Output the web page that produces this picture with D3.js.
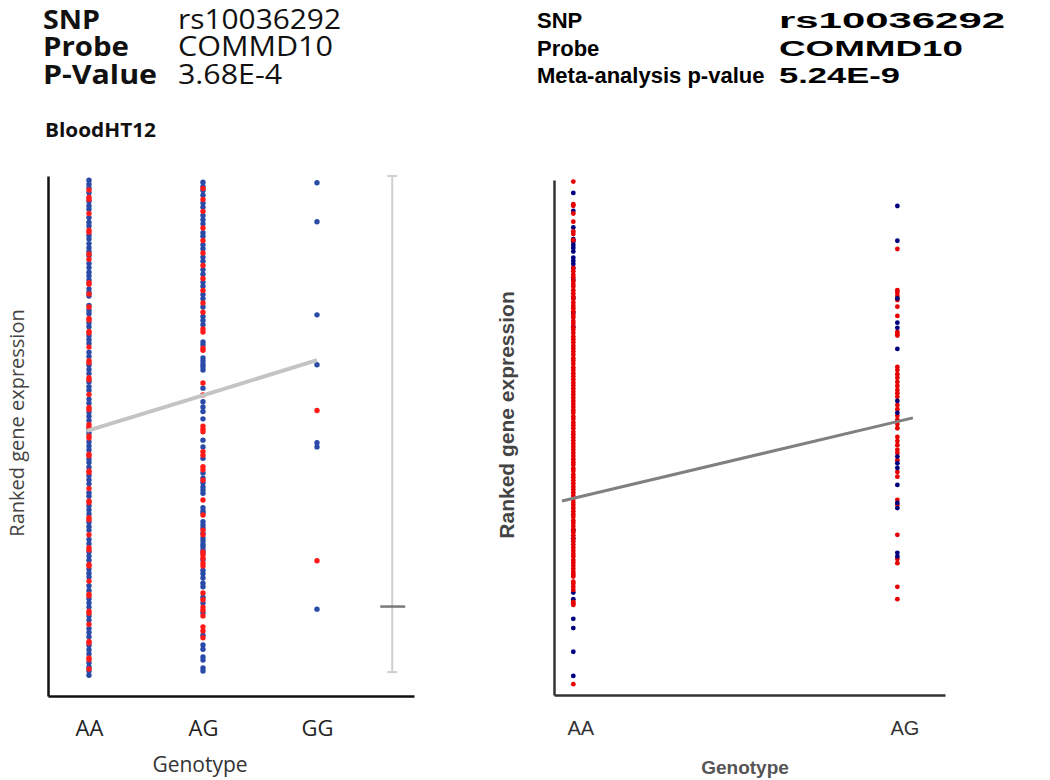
<!DOCTYPE html>
<html>
<head>
<meta charset="utf-8">
<script src="https://cdn.jsdelivr.net/npm/d3@7/dist/d3.min.js"></script>
<style>
  html, body { margin: 0; padding: 0; background: #ffffff; }
  svg { display: block; }
</style>
</head>
<body>
<svg id="chart" width="1050" height="780"></svg>
<script>
// ---------------- DATA ----------------
const leftHeaderLabels = ["SNP", "Probe", "P-Value"];
const leftHeaderValues = ["rs10036292", "COMMD10", "3.68E-4"];
const leftSubtitle = "BloodHT12";
const rightHeaderLabels = ["SNP", "Probe", "Meta-analysis p-value"];
const rightHeaderValues = ["rs10036292", "COMMD10", "5.24E-9"];

const leftCategories = ["AA", "AG", "GG"];
const rightCategories = ["AA", "AG"];
const xTitle = "Genotype";
const yTitle = "Ranked gene expression";

// Left panel (BloodHT12) ranked expression, 0-100
const leftAABlue = [99.2, 98.4, 97.7, 96.8, 95.1, 94.3, 93.6, 92.0, 91.1, 90.4, 88.6, 87.9, 87.0, 86.2, 85.5, 84.7, 83.2, 82.4, 81.5, 80.8, 80.0, 78.3, 77.6, 76.9, 75.1, 74.2, 73.5, 71.8, 71.0, 69.3, 68.5, 67.8, 66.1, 65.3, 63.6, 62.8, 62.0, 60.4, 59.5, 58.8, 57.1, 56.3, 54.6, 53.8, 53.0, 51.3, 50.6, 48.9, 48.1, 47.3, 45.6, 44.9, 44.0, 42.4, 41.6, 40.8, 39.1, 38.4, 36.6, 35.8, 35.0, 33.4, 32.6, 31.9, 30.1, 29.3, 27.7, 26.9, 26.1, 24.4, 23.6, 22.9, 21.2, 20.3, 18.7, 17.9, 17.1, 15.4, 14.6, 13.0, 12.2, 11.4, 9.7, 8.9, 8.1, 6.4, 5.6, 4.8, 4.0];
const leftAARed = [97.3, 95.9, 95.5, 92.8, 89.6, 89.2, 85.0, 84.0, 79.5, 79.2, 77.3, 74.8, 72.6, 72.3, 70.1, 69.8, 67.1, 64.5, 64.1, 61.2, 60.8, 58.0, 55.5, 55.1, 52.2, 51.7, 50.0, 49.6, 46.5, 46.2, 43.3, 43.0, 39.9, 37.5, 37.2, 34.3, 33.9, 31.0, 28.5, 28.1, 25.3, 25.0, 22.1, 19.6, 19.3, 16.3, 15.9, 13.8, 10.5, 10.2, 7.3, 7.0, 5.2];
const leftAGBlue = [98.8, 98.0, 97.2, 96.3, 94.8, 94.0, 92.4, 91.6, 90.8, 89.1, 88.4, 86.8, 86.0, 84.4, 83.6, 82.0, 81.1, 79.6, 78.8, 77.2, 76.4, 74.8, 73.0, 72.2, 71.4, 68.1, 67.5, 65.0, 64.4, 63.8, 63.3, 62.7, 59.2, 56.6, 55.6, 54.7, 53.3, 49.2, 47.9, 45.7, 42.9, 41.9, 41.0, 40.2, 39.6, 39.0, 36.2, 35.6, 35.2, 33.5, 32.9, 32.3, 31.3, 30.4, 29.8, 29.2, 28.7, 28.1, 27.5, 26.2, 24.2, 23.5, 22.7, 21.7, 21.0, 19.0, 17.9, 16.0, 11.7, 9.8, 9.0, 7.5, 6.9, 5.4, 4.8];
const leftAGRed = [97.6, 95.5, 93.2, 90.0, 87.6, 85.2, 82.8, 80.3, 78.0, 75.6, 73.8, 70.6, 70.0, 66.9, 66.5, 60.2, 57.9, 51.9, 51.3, 50.8, 47.0, 46.3, 44.1, 43.5, 41.5, 37.7, 34.8, 31.9, 31.0, 27.7, 27.1, 26.5, 25.6, 25.0, 19.8, 18.5, 17.1, 16.5, 15.4, 13.3, 12.5, 11.2];
const leftGGBlue = [98.7, 91.2, 73.3, 63.7, 48.7, 47.9, 16.7];
const leftGGRed = [54.9, 26.0];
const leftFit = [51.0, 57.8, 64.6];          // fitted line at AA, AG, GG
const leftRangeBar = [4.6, 17.2, 100];       // low, mid, high
const leftRangeBarSlot = 2.66;               // category slot of the range bar

// Right panel (meta-analysis) ranked expression, 0-100
const rightAABlue = [97.5, 94.0, 90.8, 88.5, 88.0, 87.4, 86.8, 86.1, 84.9, 84.3, 83.7, 82.9, 80.6, 77.1, 74.2, 71.5, 32.0, 30.4, 19.9, 18.6, 14.8, 13.0, 8.4, 3.7];
const rightAARed = [99.7, 95.3, 95.0, 93.5, 91.9, 90.0, 89.5, 88.3, 82.9, 82.3, 81.6, 81.1, 80.4, 79.8, 79.3, 78.6, 78.0, 77.4, 76.9, 76.2, 75.6, 75.1, 74.5, 73.8, 73.3, 72.6, 72.1, 71.4, 70.9, 70.3, 69.6, 69.1, 68.5, 67.8, 67.3, 66.7, 66.1, 65.4, 64.9, 64.3, 63.6, 63.1, 62.5, 61.9, 61.3, 60.7, 60.1, 59.5, 58.9, 58.3, 57.7, 57.1, 56.5, 55.9, 55.3, 54.8, 54.1, 53.6, 52.9, 52.4, 51.8, 51.1, 50.6, 50.0, 49.4, 48.8, 48.2, 47.6, 47.0, 46.4, 45.8, 45.2, 44.7, 44.0, 43.5, 42.8, 42.3, 41.7, 41.1, 40.5, 39.9, 39.3, 38.7, 38.1, 37.5, 36.9, 36.3, 35.7, 35.1, 34.6, 33.9, 33.4, 32.8, 32.2, 31.6, 31.0, 30.4, 29.8, 29.2, 28.6, 28.0, 27.4, 26.9, 26.2, 25.7, 25.1, 24.5, 23.9, 23.4, 23.0, 22.0, 21.6, 21.0, 20.4, 18.1, 17.8, 17.5, 2.1];
const rightAGBlue = [94.95, 88.2, 77.0, 72.3, 71.3, 67.2, 57.1, 54.8, 46.3, 45.0, 44.1, 40.8, 37.3, 36.3, 27.6, 26.9];
const rightAGRed = [86.6, 78.6, 78.1, 77.5, 76.7, 75.4, 73.6, 70.5, 70.1, 69.8, 63.7, 63.1, 62.3, 61.6, 60.8, 60.0, 59.2, 58.6, 57.9, 56.3, 55.5, 54.2, 53.4, 52.6, 51.8, 50.1, 49.3, 48.5, 47.6, 47.0, 45.6, 43.3, 42.4, 37.9, 36.9, 31.1, 26.4, 25.6, 21.0, 18.6];
const rightFit = [38.2, 53.1];               // fitted line at AA, AG
const rightFitExtent = [-0.035, 1.048];      // line drawn slightly past the columns

// ---------------- DRAWING ----------------
const svg = d3.select("#chart");

// ===== Left panel =====
const L = svg.append("g");
const xL = d3.scaleLinear().domain([-0.3596, 2.851]).range([48, 414]);
const yL = d3.scaleLinear().domain([0, 100]).range([696, 176]);
const leftFont = "'Open Sans', 'Noto Sans', sans-serif";

// header (text widths stretched like the reference)
const leftLabelWidths = [57, 86, 114];
const leftValueWidths = [163, 155, 104];
leftHeaderLabels.forEach((t, i) => {
  L.append("text").attr("x", 43).attr("y", 29 + i * 27.3)
    .attr("font-family", leftFont).attr("font-weight", 700).attr("font-size", 27)
    .attr("textLength", leftLabelWidths[i]).attr("lengthAdjust", "spacingAndGlyphs")
    .attr("fill", "#111").text(t);
});
leftHeaderValues.forEach((t, i) => {
  L.append("text").attr("x", 178).attr("y", 29 + i * 27.3)
    .attr("font-family", leftFont).attr("font-weight", 400).attr("font-size", 28)
    .attr("textLength", leftValueWidths[i]).attr("lengthAdjust", "spacingAndGlyphs")
    .attr("fill", "#111").text(t);
});
L.append("text").attr("x", 45).attr("y", 137)
  .attr("font-family", leftFont).attr("font-weight", 700).attr("font-size", 20)
  .attr("textLength", 111).attr("lengthAdjust", "spacingAndGlyphs")
  .attr("fill", "#111").text(leftSubtitle);

// range bar
const barX = xL(leftRangeBarSlot);
L.append("line").attr("x1", barX).attr("x2", barX)
  .attr("y1", yL(leftRangeBar[2])).attr("y2", yL(leftRangeBar[0]))
  .attr("stroke", "#cfcfcf").attr("stroke-width", 2);
[leftRangeBar[0], leftRangeBar[2]].forEach(v => {
  L.append("line").attr("x1", barX - 5).attr("x2", barX + 5)
    .attr("y1", yL(v)).attr("y2", yL(v))
    .attr("stroke", "#cfcfcf").attr("stroke-width", 2);
});
L.append("line").attr("x1", barX - 12).attr("x2", barX + 13)
  .attr("y1", yL(leftRangeBar[1])).attr("y2", yL(leftRangeBar[1]))
  .attr("stroke", "#7a7a7a").attr("stroke-width", 2.5);

// points
const leftBlue = "#2a4aa8", leftRed = "#ff1a1a";
function dots(g, xs, ys, slot, vals, color, r) {
  g.append("g").selectAll("circle").data(vals).join("circle")
    .attr("cx", xs(slot)).attr("cy", d => ys(d)).attr("r", r).attr("fill", color);
}
dots(L, xL, yL, 0, leftAABlue, leftBlue, 2.7);
dots(L, xL, yL, 0, leftAARed, leftRed, 2.7);
dots(L, xL, yL, 1, leftAGBlue, leftBlue, 2.7);
dots(L, xL, yL, 1, leftAGRed, leftRed, 2.7);
dots(L, xL, yL, 2, leftGGBlue, leftBlue, 2.7);
dots(L, xL, yL, 2, leftGGRed, leftRed, 2.7);

// fit line
L.append("path").datum(leftFit)
  .attr("d", d3.line().x((d, i) => xL(i) - (i === 0 ? 2 : 0)).y(d => yL(d)))
  .attr("fill", "none").attr("stroke", "#c4c4c4").attr("stroke-width", 4);

// axes
const yAxisL = L.append("g").attr("transform", "translate(48,0)")
  .call(d3.axisLeft(yL).tickValues([]).tickSizeOuter(0));
yAxisL.select(".domain").attr("stroke", "#111").attr("stroke-width", 2.5);
const xAxisL = L.append("g").attr("transform", "translate(0,696)")
  .call(d3.axisBottom(xL).tickValues([0, 1, 2]).tickFormat(i => leftCategories[i])
    .tickSize(0).tickPadding(24));
xAxisL.select(".domain").attr("stroke", "#111").attr("stroke-width", 2.5);
xAxisL.selectAll("text").attr("font-family", leftFont).attr("font-size", 22).attr("fill", "#222");

L.append("text").attr("x", 200).attr("y", 772).attr("text-anchor", "middle")
  .attr("font-family", leftFont).attr("font-size", 21).attr("fill", "#333").text(xTitle);
L.append("text").attr("transform", "translate(24,423) rotate(-90)").attr("text-anchor", "middle")
  .attr("font-family", leftFont).attr("font-size", 20).attr("fill", "#444").text(yTitle);

// ===== Right panel =====
const R = svg.append("g");
const xR = d3.scaleLinear().domain([-0.0596, 1.147]).range([554, 945]);
const yR = d3.scaleLinear().domain([0, 100]).range([695, 180]);
const rightFont = "'Liberation Sans', Arial, sans-serif";

const rightValueWidths = [226, 184, 121];
rightHeaderLabels.forEach((t, i) => {
  R.append("text").attr("x", 537).attr("y", 28 + i * 27.7)
    .attr("font-family", rightFont).attr("font-weight", 700).attr("font-size", 22)
    .attr("fill", "#000").text(t);
});
rightHeaderValues.forEach((t, i) => {
  R.append("text").attr("x", 779).attr("y", 28 + i * 27.7)
    .attr("font-family", rightFont).attr("font-weight", 700).attr("font-size", 22)
    .attr("textLength", rightValueWidths[i]).attr("lengthAdjust", "spacingAndGlyphs")
    .attr("fill", "#000").text(t);
});

const rightBlue = "#00007f", rightRed = "#e60000";
dots(R, xR, yR, 0, rightAABlue, rightBlue, 2.4);
dots(R, xR, yR, 0, rightAARed, rightRed, 2.4);
dots(R, xR, yR, 1, rightAGRed, rightRed, 2.4);
dots(R, xR, yR, 1, rightAGBlue, rightBlue, 2.4);

const fitR = d3.scaleLinear().domain([0, 1]).range(rightFit);
R.append("path").datum(rightFitExtent)
  .attr("d", d3.line().x(d => xR(d)).y(d => yR(fitR(d))))
  .attr("fill", "none").attr("stroke", "#808080").attr("stroke-width", 3);

const yAxisR = R.append("g").attr("transform", "translate(554,0)")
  .call(d3.axisLeft(yR).tickValues([]).tickSizeOuter(0));
yAxisR.select(".domain").attr("stroke", "#333").attr("stroke-width", 2.5);
const xAxisR = R.append("g").attr("transform", "translate(0,695)")
  .call(d3.axisBottom(xR).tickValues([0, 1]).tickFormat(i => rightCategories[i])
    .tickSize(0).tickPadding(26));
xAxisR.select(".domain").attr("stroke", "#333").attr("stroke-width", 2.5);
xAxisR.selectAll("text").attr("font-family", rightFont).attr("font-size", 20)
  .attr("fill", "#333").attr("dx", 7);

R.append("text").attr("x", 745).attr("y", 774).attr("text-anchor", "middle")
  .attr("font-family", rightFont).attr("font-weight", 700).attr("font-size", 19)
  .attr("fill", "#555").text(xTitle);
R.append("text").attr("transform", "translate(514,415) rotate(-90)").attr("text-anchor", "middle")
  .attr("font-family", rightFont).attr("font-weight", 700).attr("font-size", 21)
  .attr("fill", "#444").text(yTitle);
</script>
</body>
</html>
